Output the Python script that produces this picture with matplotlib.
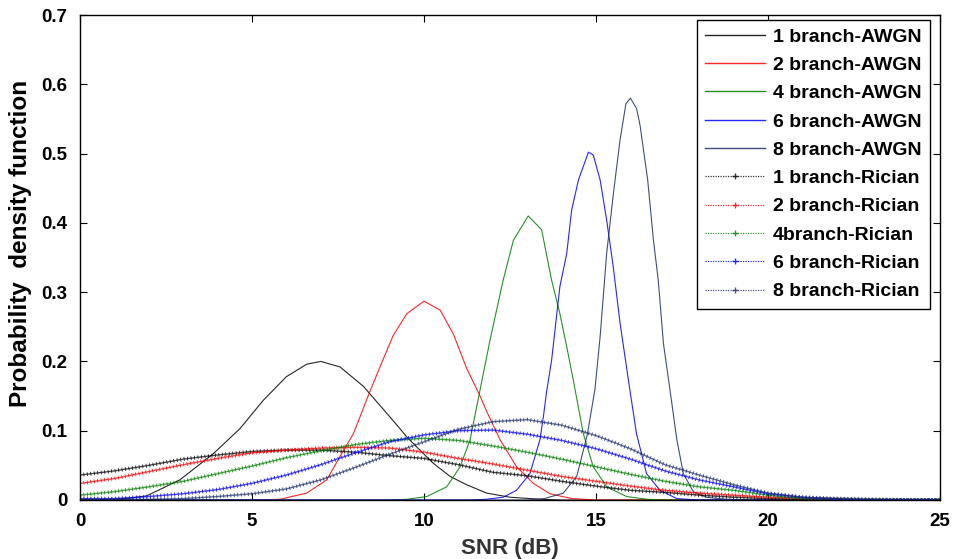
import matplotlib
matplotlib.use("Agg")
import matplotlib.pyplot as plt
from matplotlib.lines import Line2D

plt.rcParams['font.family'] = ['Liberation Sans', 'DejaVu Sans']
plt.rcParams['font.weight'] = 'bold'

# ---------------- data ----------------
awgn1_x = [0, 1, 1.5, 1.94, 2.9, 3.88, 4.65, 5.33, 6.0, 6.59, 7.0, 7.56, 8.24, 8.92, 9.3, 9.5,
           9.88, 10.27, 10.76, 11.24, 11.82, 12.5, 13.4, 14, 25]
awgn1_y = [0, 0.001, 0.003, 0.006, 0.029, 0.067, 0.103, 0.144, 0.178, 0.196, 0.200, 0.192, 0.164,
           0.125, 0.103, 0.091, 0.072, 0.053, 0.034, 0.022, 0.010, 0.004, 0.001, 0, 0]

awgn2_x = [0, 5.0, 5.81, 6.59, 7.17, 7.56, 7.95, 8.14, 8.43, 8.72, 9.1, 9.5, 10.0, 10.47, 10.85,
           11.24, 11.63, 11.82, 12.21, 12.69, 13.18, 13.66, 14.3, 15, 25]
awgn2_y = [0, 0, 0.001, 0.010, 0.029, 0.063, 0.096, 0.120, 0.157, 0.192, 0.237, 0.269, 0.287, 0.274,
           0.240, 0.190, 0.150, 0.128, 0.087, 0.048, 0.024, 0.009, 0.002, 0, 0]

awgn4_x = [0, 9.0, 9.5, 10.08, 10.66, 11.05, 11.34, 11.63, 11.92, 12.3, 12.6, 13.03, 13.42, 13.71,
           13.95, 14.15, 14.34, 14.63, 14.92, 15.31, 15.89, 16.5, 17, 25]
awgn4_y = [0, 0, 0.001, 0.005, 0.019, 0.048, 0.087, 0.159, 0.231, 0.317, 0.375, 0.410, 0.390, 0.317,
           0.269, 0.221, 0.173, 0.096, 0.048, 0.019, 0.005, 0.001, 0, 0]

awgn6_x = [0, 11.3, 11.8, 12.3, 12.69, 13.08, 13.37, 13.47, 13.56, 13.71, 13.95, 14.15, 14.29, 14.49,
           14.78, 14.92, 15.12, 15.31, 15.5, 15.7, 15.99, 16.18, 16.47, 16.86, 17.35, 18, 25]
awgn6_y = [0, 0, 0.001, 0.004, 0.014, 0.038, 0.087, 0.120, 0.155, 0.202, 0.308, 0.356, 0.418, 0.462,
           0.502, 0.498, 0.462, 0.404, 0.337, 0.255, 0.157, 0.095, 0.038, 0.014, 0.002, 0, 0]

awgn8_x = [0, 13.0, 13.5, 14.05, 14.44, 14.75, 14.97, 15.12, 15.31, 15.5, 15.7, 15.87, 16.0, 16.18,
           16.28, 16.5, 16.67, 16.81, 16.96, 17.15, 17.35, 17.54, 17.83, 18.2, 18.8, 19.5, 25]
awgn8_y = [0, 0, 0.002, 0.010, 0.034, 0.095, 0.160, 0.236, 0.356, 0.440, 0.520, 0.572, 0.580, 0.565,
           0.541, 0.463, 0.375, 0.317, 0.226, 0.159, 0.087, 0.038, 0.012, 0.004, 0.001, 0, 0]

rician_x = list(range(0, 26))
rician1_y = [0.036, 0.042, 0.050, 0.059, 0.065, 0.070, 0.072, 0.072, 0.069, 0.064, 0.060, 0.051, 0.040,
             0.035, 0.027, 0.020, 0.014, 0.011, 0.007, 0.004, 0.002, 0.001, 0.001, 0, 0, 0]
rician2_y = [0.024, 0.031, 0.041, 0.051, 0.060, 0.068, 0.072, 0.075, 0.076, 0.075, 0.069, 0.060, 0.052,
             0.043, 0.034, 0.027, 0.020, 0.014, 0.010, 0.007, 0.004, 0.002, 0.001, 0, 0, 0]
rician4_y = [0.007, 0.012, 0.019, 0.027, 0.038, 0.049, 0.061, 0.071, 0.080, 0.086, 0.089, 0.086, 0.078,
             0.069, 0.059, 0.048, 0.037, 0.027, 0.019, 0.014, 0.007, 0.002, 0.001, 0, 0, 0]
rician6_y = [0.002, 0.002, 0.005, 0.009, 0.015, 0.024, 0.036, 0.051, 0.068, 0.084, 0.094, 0.100, 0.101,
             0.095, 0.086, 0.074, 0.059, 0.042, 0.029, 0.019, 0.009, 0.004, 0.001, 0, 0, 0]
rician8_y = [0.001, 0.001, 0.001, 0.002, 0.005, 0.009, 0.016, 0.029, 0.047, 0.066, 0.084, 0.102, 0.113,
             0.116, 0.108, 0.093, 0.074, 0.051, 0.036, 0.022, 0.010, 0.004, 0.002, 0.001, 0, 0]

awgn_labels = ['1 branch-AWGN', '2 branch-AWGN', '4 branch-AWGN', '6 branch-AWGN', '8 branch-AWGN']
rician_labels = ['1 branch-Rician', '2 branch-Rician', '4branch-Rician', '6 branch-Rician', '8 branch-Rician']
colors = ['#000000', '#ff0000', '#008000', '#0000ff', '#1c2f6b']

x_ticks = [0, 5, 10, 15, 20, 25]
y_ticks = [0, 0.1, 0.2, 0.3, 0.4, 0.5, 0.6, 0.7]
y_tick_labels = ['0', '0.1', '0.2', '0.3', '0.4', '0.5', '0.6', '0.7']

# ---------------- figure ----------------
fig = plt.figure(figsize=(9.57, 5.59), dpi=100)
ax = fig.add_axes([80 / 957, 59 / 559, 860 / 957, 485 / 559])

awgn = [(awgn1_x, awgn1_y), (awgn2_x, awgn2_y), (awgn4_x, awgn4_y), (awgn6_x, awgn6_y), (awgn8_x, awgn8_y)]
for (xs, ys), c in zip(awgn, colors):
    ax.plot(xs, ys, color=c, lw=0.8, alpha=0.85, solid_joinstyle='round')

rician = [rician1_y, rician2_y, rician4_y, rician6_y, rician8_y]
for ys, c in zip(rician, colors):
    ax.plot(rician_x, ys, color=c, lw=1.0, alpha=0.7)
    ax.plot(rician_x, ys, color=c, lw=2.8, alpha=0.9, linestyle=(0, (0.2, 0.7)))

ax.set_xlim(0, 25)
ax.set_ylim(0, 0.7)
ax.set_xticks(x_ticks)
ax.set_xticklabels([str(t) for t in x_ticks])
ax.set_yticks(y_ticks)
ax.set_yticklabels(y_tick_labels)
ax.tick_params(direction='in', length=5, width=0.8, top=True, right=True,
               labelsize=13.5, pad=9)
for lab in ax.get_xticklabels() + ax.get_yticklabels():
    lab.set_fontweight('bold')
for sp in ax.spines.values():
    sp.set_linewidth(1.0)

ax.set_xlabel('SNR (dB)', fontsize=16, fontweight='bold', color='#333333', labelpad=6)
ax.set_ylabel('Probability  density function', fontsize=17.5, fontweight='bold')
ax.yaxis.set_label_coords(-0.056, 0.53)

handles = []
for c in colors:
    handles.append(Line2D([], [], color=c, lw=1.0, alpha=0.85))
for c in colors:
    handles.append(Line2D([], [], color=c, lw=0.9, linestyle=(0, (1, 1)), marker='+',
                          markersize=4, markeredgewidth=1.0, alpha=0.8))
leg = ax.legend(handles, awgn_labels + rician_labels, loc='upper right',
                bbox_to_anchor=(0.988, 0.99), prop={'weight': 'bold', 'size': 14},
                frameon=True, fancybox=False, edgecolor='black', framealpha=1,
                handlelength=3.1, handletextpad=0.4, labelspacing=0.55, borderpad=0.42,
                borderaxespad=0, numpoints=1)
leg.get_frame().set_linewidth(1.0)

fig.savefig('out.png', dpi=100)
